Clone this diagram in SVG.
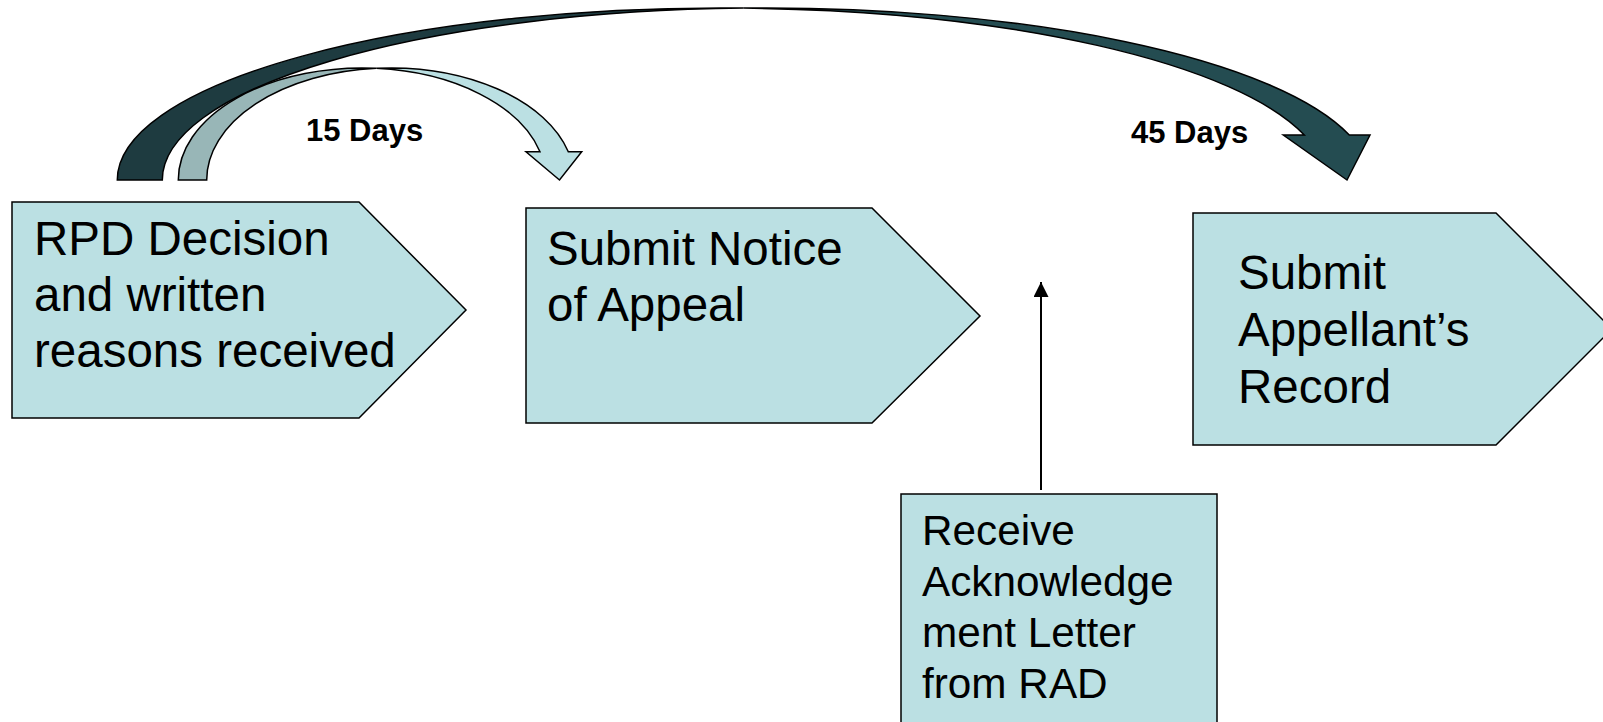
<svg xmlns="http://www.w3.org/2000/svg" width="1603" height="722" viewBox="0 0 1603 722">
<style>
.node{fill:#bbe0e3;stroke:#000;stroke-width:1.5}
.t{font-family:"Liberation Sans",Arial,sans-serif;font-size:47.5px;fill:#000}
.ts{font-family:"Liberation Sans",Arial,sans-serif;font-size:42.3px;fill:#000}
.lbl{font-family:"Liberation Sans",Arial,sans-serif;font-size:31px;font-weight:bold;fill:#000}
.arr{stroke:#000;stroke-width:1.5;stroke-linejoin:miter}
</style>
<defs>
<marker id="ah" markerUnits="userSpaceOnUse" viewBox="0 0 15 15" markerWidth="15" markerHeight="15" refX="15" refY="7.5" orient="auto">
<path d="M0,0 L15,7.5 L0,15 Z" fill="#000"/>
</marker>
</defs>
<rect width="1603" height="722" fill="#fff"/>
<g id="connectors">
<g id="arrow45">
<path class="arr" fill="#1e3b40" d="M117.3,180 A604,172 0 0 1 743.8,8.12 A604,172 0 0 0 162.3,180 Z"/>
<path class="arr" fill="#244c51" d="M743.8,8.12 A604,172 0 0 1 1349.3,135 L1370,135 L1347,180 L1283.3,135 L1304.3,135 A604,172 0 0 0 743.8,8.12 Z"/>
</g>
<g id="arrow15">
<path class="arr" fill="#98b6b7" d="M178.3,180 A183.8,112 0 0 1 376.3,68.33 A183.8,112 0 0 0 206.7,180 Z"/>
<path class="arr" fill="#bbe0e3" d="M376.3,68.33 A183.8,112 0 0 1 568.3,151.7 L581.7,151.7 L559.5,180 L526,151.7 L540,151.7 A183.8,112 0 0 0 376.3,68.33 Z"/>
</g>
<path d="M1041,490 L1041,282" stroke="#000" stroke-width="2" fill="none" marker-end="url(#ah)"/>
<text class="lbl" x="306" y="140.5">15 Days</text>
<text class="lbl" x="1131" y="142.7">45 Days</text>
</g>
<g id="node-rpd">
<polygon class="node" points="12,202 359,202 466,310 359,418 12,418"/>
<text class="t" x="34" y="255">RPD Decision</text>
<text class="t" x="34" y="311">and written</text>
<text class="t" x="34" y="367">reasons received</text>
</g>
<g id="node-notice">
<polygon class="node" points="526,208 872,208 980,316 872,423 526,423"/>
<text class="t" x="547" y="265">Submit Notice</text>
<text class="t" x="547" y="321">of Appeal</text>
</g>
<g id="node-record">
<polygon class="node" points="1193,213 1496,213 1612,329 1496,445 1193,445"/>
<text class="t" x="1238" y="289">Submit</text>
<text class="t" x="1238" y="346">Appellant’s</text>
<text class="t" x="1238" y="403">Record</text>
</g>
<g id="node-ack">
<rect class="node" x="901" y="494" width="316" height="240"/>
<text class="ts" x="922" y="545">Receive</text>
<text class="ts" x="922" y="596">Acknowledge</text>
<text class="ts" x="922" y="647">ment Letter</text>
<text class="ts" x="922" y="698">from RAD</text>
</g>
</svg>
